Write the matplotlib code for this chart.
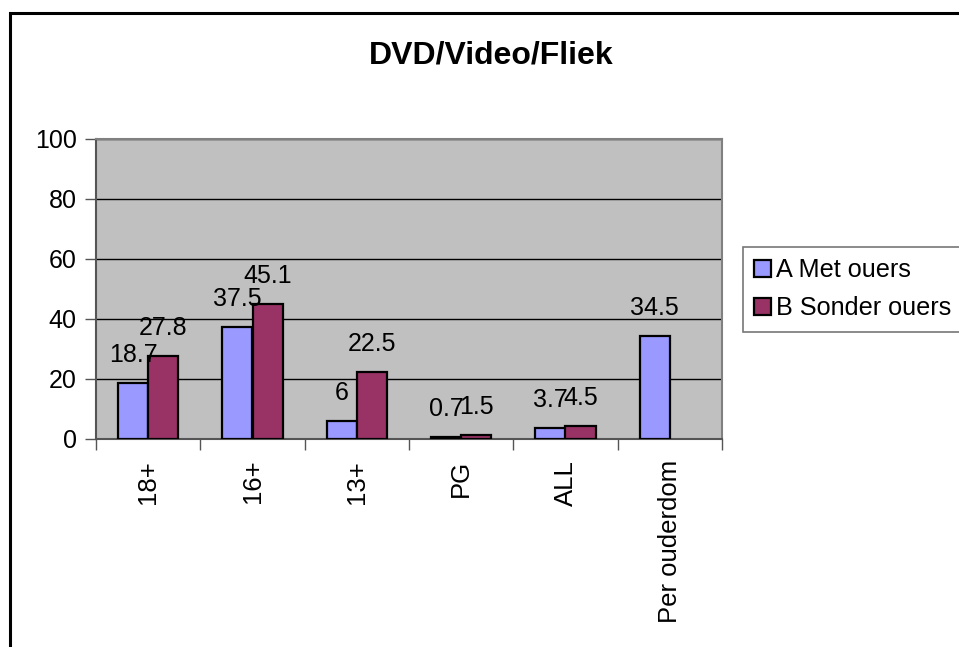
import matplotlib.pyplot as plt
import numpy as np
from matplotlib.patches import Rectangle

plt.rcParams['font.family'] = ['Liberation Sans', 'DejaVu Sans']

categories = ['18+', '16+', '13+', 'PG', 'ALL', 'Per ouderdom']
met_ouers = [18.7, 37.5, 6, 0.7, 3.7, 34.5]
sonder_ouers = [27.8, 45.1, 22.5, 1.5, 4.5, None]
series_names = ['A Met ouers', 'B Sonder ouers']

blue = '#9999FF'
red = '#993366'
fs = 18

fig = plt.figure(figsize=(9.59, 6.47), dpi=100)
# outer chart border (right/bottom cut off in the original)
fig.patches.append(Rectangle((9.5 / 959, -0.1), 1.2, 1 - 13 / 647 + 0.1,
                             transform=fig.transFigure, fill=False,
                             edgecolor='black', linewidth=2.2, zorder=10))

ax = fig.add_axes([96 / 959, 1 - 439 / 647, 626 / 959, 300 / 647])
ax.set_facecolor('#C0C0C0')

x = np.arange(len(categories))
w = 0.29
for i in range(len(categories)):
    ax.bar(x[i] - w / 2, met_ouers[i], w, color=blue, edgecolor='black',
           linewidth=1.6, zorder=3, label=series_names[0] if i == 0 else None)
    ax.annotate(f'{met_ouers[i]:g}', (x[i] - w / 2, met_ouers[i]),
                xytext=(0, 15), textcoords='offset points', ha='center',
                va='baseline', fontsize=fs, zorder=5)
    if sonder_ouers[i] is not None:
        ax.bar(x[i] + w / 2, sonder_ouers[i], w, color=red, edgecolor='black',
               linewidth=1.6, zorder=3, label=series_names[1] if i == 0 else None)
        ax.annotate(f'{sonder_ouers[i]:g}', (x[i] + w / 2, sonder_ouers[i]),
                    xytext=(0, 15), textcoords='offset points', ha='center',
                    va='baseline', fontsize=fs, zorder=5)

ax.set_xlim(-0.5, len(categories) - 0.5)
ax.set_ylim(0, 100)
ax.set_yticks(range(0, 101, 20))
ax.yaxis.grid(True, color='black', linewidth=1)
ax.set_axisbelow(True)

ax.set_xticks(np.arange(len(categories) + 1) - 0.5)
ax.set_xticklabels([])
ax.set_xticks(x, minor=True)
ax.set_xticklabels(categories, minor=True, rotation=90, fontsize=18.5,
                   va='top', ha='center')
ax.tick_params(axis='x', which='minor', length=0, pad=15)
ax.tick_params(axis='x', which='major', length=8, width=1, color='#555555')
ax.tick_params(axis='y', length=8, width=1, color='#555555', labelsize=fs, pad=6)

for s in ['top', 'right']:
    ax.spines[s].set_color('#808080')
    ax.spines[s].set_linewidth(1.5)
for s in ['left', 'bottom']:
    ax.spines[s].set_color('#555555')
    ax.spines[s].set_linewidth(1.5)

fig.text(491 / 959, 1 - 56 / 647, 'DVD/Video/Fliek', ha='center', va='center',
         fontsize=23, fontweight='bold')

leg = ax.legend(loc='upper left', bbox_to_anchor=(743 / 959, 1 - 247 / 647),
                bbox_transform=fig.transFigure, fontsize=18.2, frameon=True,
                fancybox=False, edgecolor='#555555', handlelength=0.65,
                handleheight=0.65, handletextpad=0.2, borderpad=0.45,
                labelspacing=0.55, borderaxespad=0)
leg.get_frame().set_linewidth(1.2)
for h in leg.legend_handles:
    h.set_linewidth(1.6)

fig.savefig('out.png', dpi=100, facecolor='white')
